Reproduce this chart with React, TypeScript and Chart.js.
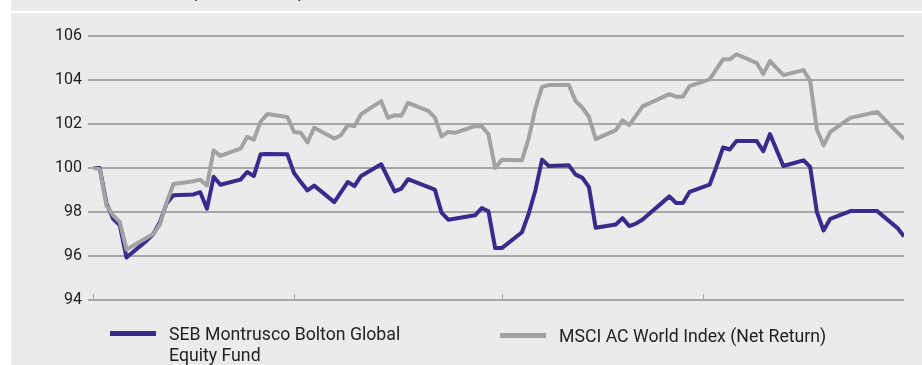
import React, { useEffect, useRef } from "react";
import { Chart, registerables } from "chart.js";

Chart.register(...registerables);

// Calendar days from the start of the period (month starts at 0, 30, 61, 91)
const days = [
  0, 1, 2, 3, 4, 5, 8, 9, 10, 11, 12, 15, 16, 17, 18, 19, 22, 23, 24, 25, 26,
  29, 30, 31, 32, 33, 36, 37, 38, 39, 40, 43, 44, 45, 46, 47, 50, 51, 52, 53,
  54, 57, 58, 59, 60, 61, 64, 65, 66, 67, 68, 71, 72, 73, 74, 75, 78, 79, 80,
  81, 82, 86, 87, 88, 89, 92, 93, 94, 95, 96, 99, 100, 101, 103, 106, 107, 108,
  109, 110, 113, 117, 120, 121,
];

// SEB Montrusco Bolton Global Equity Fund, indexed to 100
const fundValues: (number | null)[] = [
  100.0, 100.0, 98.4, 97.69, 97.39, 95.93, 96.7, 97.0, 97.55, 98.4, 98.76,
  98.8, 98.9, 98.15, 99.6, 99.24, 99.47, 99.82, 99.64, 100.62, 100.64,
  100.62, 99.77, 99.36, 98.98, 99.2, 98.45, null, 99.36, 99.18, 99.64,
  100.17, null, 98.94, 99.06, 99.49, null, 99.02, 97.97, 97.65,
  null, 97.85, 98.18, 98.03, 96.36, 96.36, 97.08, 97.92, 98.98, 100.38, 100.09,
  100.12, 99.7, 99.56, 99.13, 97.28, 97.43, 97.72, 97.36,
  97.47, 97.66, 98.71, 98.41, 98.41, 98.91, 99.24, 100.05, 100.93, 100.84, 101.23,
  101.23, 100.76, 101.54, 100.09, 100.35, 100.05, 98.0,
  97.16, 97.69, 98.04, 98.04, 97.28, 96.89,
];

// MSCI AC World Index (Net Return), indexed to 100
const indexValues: (number | null)[] = [
  100.0, 99.95, 98.3, 97.85, 97.54, 96.3, null, 97.0, 97.45, 98.45, 99.27,
  99.4, 99.47, 99.2, 100.8, 100.55, 100.88, 101.41, 101.29, 102.1, 102.45,
  102.32, 101.64, 101.6, 101.16, 101.83, 101.34, 101.49, 101.95, 101.9, 102.45,
  103.04, 102.28, 102.4, 102.37, 102.96, 102.6, 102.3, 101.44, 101.64,
  101.6, 101.9, 101.9, 101.53, 100.0, 100.38, 100.35, 101.34, 102.7, 103.69, 103.77,
  103.77, 103.04, 102.75, 102.32, 101.31, 101.72, 102.17, 101.95,
  null, 102.8, 103.36, 103.24, 103.24, 103.72, 104.03, 104.48, 104.94, 104.94, 105.17,
  104.78, 104.27, 104.86, 104.22, 104.45, 103.96, 101.75,
  101.03, 101.64, 102.28, 102.55, null, 101.31,
];

const monthStarts = [0, 30, 61, 91];
const yTicks = [94, 96, 98, 100, 102, 104, 106];

const seriesNames = [
  "SEB Montrusco Bolton Global Equity Fund",
  "MSCI AC World Index (Net Return)",
];

const FUND_COLOR = "#3b2a8c";
const INDEX_COLOR = "#a2a2a2";
const GRID_COLOR = "#a6a6a6";
const PANEL_BG = "#ebebeb";
const FONT = "Roboto, 'Noto Sans', sans-serif";

const monthTickPlugin = {
  id: "monthTicks",
  afterDatasetsDraw(chart: any) {
    const xScale = chart.scales.x;
    const { ctx, chartArea } = chart;
    ctx.save();
    ctx.strokeStyle = GRID_COLOR;
    ctx.lineWidth = 1;
    monthStarts.forEach((d) => {
      const px = Math.round(xScale.getPixelForValue(d)) + 0.5;
      ctx.beginPath();
      ctx.moveTo(px, chartArea.bottom - 6);
      ctx.lineTo(px, chartArea.bottom);
      ctx.stroke();
    });
    ctx.restore();
  },
};

function PerformanceChart() {
  const canvasRef = useRef<HTMLCanvasElement | null>(null);

  useEffect(() => {
    if (!canvasRef.current) return;
    const toPoints = (vals: (number | null)[]) =>
      days.map((d, i) => ({ x: d, y: vals[i] }));

    const chart = new Chart(canvasRef.current, {
      type: "line",
      data: {
        datasets: [
          {
            label: seriesNames[1],
            data: toPoints(indexValues),
            borderColor: INDEX_COLOR,
            borderWidth: 4,
            pointRadius: 0,
            tension: 0,
            spanGaps: true,
            borderJoinStyle: "round",
          },
          {
            label: seriesNames[0],
            data: toPoints(fundValues),
            borderColor: FUND_COLOR,
            borderWidth: 4,
            pointRadius: 0,
            tension: 0,
            spanGaps: true,
            borderJoinStyle: "round",
          },
        ],
      },
      options: {
        animation: false,
        responsive: false,
        layout: { padding: { top: 36, bottom: 65, left: 0, right: 18 } },
        plugins: {
          legend: { display: false },
          tooltip: { enabled: false },
          title: { display: false },
        },
        scales: {
          x: {
            type: "linear",
            display: false,
            min: 0,
            max: 121,
          },
          y: {
            min: 94,
            max: 106,
            afterFit: (scale: any) => {
              scale.width = 93;
            },
            afterBuildTicks: (scale: any) => {
              scale.ticks = yTicks.map((v) => ({ value: v }));
            },
            border: { display: false },
            grid: {
              color: GRID_COLOR,
              lineWidth: 2,
              tickLength: 5,
              drawTicks: true,
            },
            ticks: {
              padding: 6,
              color: "#222",
              font: { family: FONT, size: 16 },
            },
          },
        },
      },
      plugins: [monthTickPlugin],
    });
    return () => chart.destroy();
  }, []);

  return (
    <canvas
      ref={canvasRef}
      width={922}
      height={365}
      style={{ position: "absolute", left: 0, top: 0, width: 922, height: 365 }}
    />
  );
}

function LegendItem(props: {
  color: string;
  left: number;
  swatchTop: number;
  textTop: number;
  lines: string[];
}) {
  const { color, left, swatchTop, textTop, lines } = props;
  return (
    <>
      <div
        style={{
          position: "absolute",
          left,
          top: swatchTop,
          width: 46,
          height: 5,
          background: color,
        }}
      />
      <div
        style={{
          position: "absolute",
          left: left + 59,
          top: textTop,
          fontFamily: FONT,
          fontSize: 17.7,
          lineHeight: "21.6px",
          color: "#222",
          whiteSpace: "nowrap",
        }}
      >
        {lines.map((l) => (
          <div key={l}>{l}</div>
        ))}
      </div>
    </>
  );
}

export default function App() {
  return (
    <div
      style={{
        position: "absolute",
        left: 0,
        top: 0,
        width: 922,
        height: 365,
        background: "#fff",
        overflow: "hidden",
      }}
    >
      {/* title band, mostly scrolled out of view */}
      <div
        style={{
          position: "absolute",
          left: 11,
          top: 0,
          width: 911,
          height: 10.5,
          background: PANEL_BG,
          overflow: "hidden",
        }}
      >
        <div
          style={{
            position: "absolute",
            left: 181,
            top: -15,
            fontFamily: FONT,
            fontWeight: 700,
            fontSize: 15,
            lineHeight: "16px",
            color: "#222",
            whiteSpace: "nowrap",
          }}
        >
          (rebased to 100)
        </div>
      </div>
      <div
        style={{
          position: "absolute",
          left: 11,
          top: 12.7,
          width: 911,
          height: 365 - 12.7,
          background: PANEL_BG,
        }}
      />
      <PerformanceChart />
      <LegendItem
        color={FUND_COLOR}
        left={110}
        swatchTop={331}
        textTop={323.5}
        lines={["SEB Montrusco Bolton Global", "Equity Fund"]}
      />
      <LegendItem
        color={INDEX_COLOR}
        left={500}
        swatchTop={333.3}
        textTop={325.5}
        lines={[seriesNames[1]]}
      />
    </div>
  );
}
